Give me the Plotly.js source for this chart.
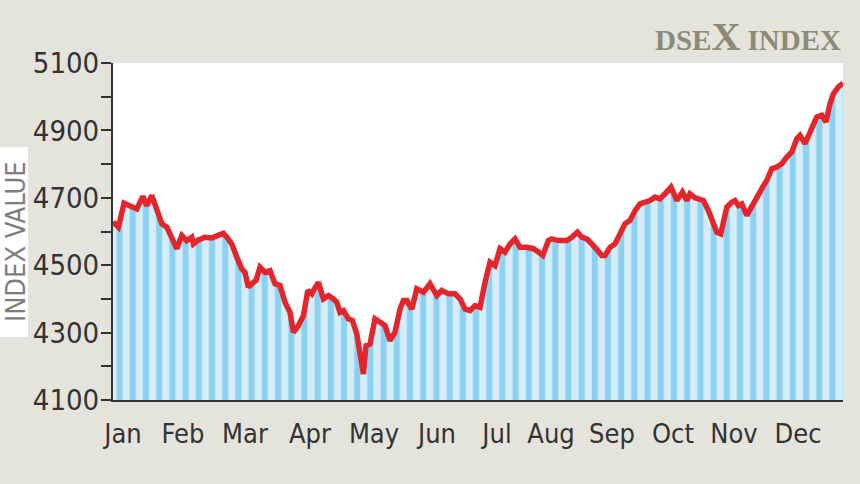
<!DOCTYPE html>
<html>
<head>
<meta charset="utf-8">
<script src="https://cdn.plot.ly/plotly-3.0.1.min.js"></script>
<style>
  html, body { margin: 0; padding: 0; background: #e5e4dc; }
  #chart { width: 860px; height: 484px; }
</style>
</head>
<body>
<div id="chart"></div>
<script>
// Day of year (0 = 1 Jan) for each reading of the DSEX index
const days = [0, 2.7, 5.5, 8.5, 11.9, 14.9, 16.9, 19.4, 21.9, 24.4, 26.9, 29.4, 31.9, 34.4, 36.9, 39.4, 40.2, 42.7, 46, 49.4,
  51.9, 55.2, 56.9, 59.4, 61.9, 64.4, 66, 67.7, 70.2, 71.5, 73.5, 76, 78.5, 81, 83.5, 86, 88.5, 90.2, 92.7, 95.2,
  97.4, 99.4, 100.7, 102.7, 105.2, 107.7, 110.2, 111.9, 113.5, 115.2, 117.7, 119.7, 121.9, 123.5, 125.2, 126.5, 128.5, 131, 133.5, 136,
  138.5, 141, 143.5, 145.2, 146.9, 149.4, 151.9, 155.2, 158.5, 161.9, 164.4, 167.7, 171, 173.5, 176, 178.5, 181, 183.5, 186, 188.5,
  191, 193.5, 196, 198.5, 201, 203.5, 206.9, 210.2, 212.7, 214.9, 217.7, 219.4, 222.7, 226.9, 229.4, 232.2, 234.4, 236.9, 239.4, 241.9,
  244.4, 246, 248.5, 251, 253.5, 256, 258.5, 261, 263.5, 266, 268.5, 271, 273.5, 276, 279, 281.9, 284.7, 286.9, 288.5, 291,
  293.5, 295.2, 297.7, 300.2, 301.9, 303.9, 305.2, 306.9, 309.4, 311, 312.7, 314.4, 316.9, 319.4, 321.9, 324.4, 326.9, 329.4, 331.9, 334.4,
  336.9, 339.4, 341.9, 343.5, 346, 347.7, 350.2, 351.9, 354.4, 356.5, 358.5, 360.2, 362.7, 365];

const indexValues = [4628, 4613, 4684, 4677, 4667, 4704, 4677, 4707, 4662, 4623, 4613, 4583, 4549, 4588, 4573, 4583, 4563, 4575, 4583, 4581,
  4588, 4595, 4583, 4563, 4524, 4489, 4479, 4435, 4449, 4455, 4494, 4479, 4484, 4445, 4440, 4390, 4360, 4301, 4321, 4350,
  4425, 4415, 4430, 4449, 4400, 4410, 4400, 4390, 4360, 4365, 4341, 4336, 4296, 4237, 4177, 4261, 4266, 4341, 4331, 4321,
  4276, 4301, 4370, 4395, 4395, 4370, 4430, 4420, 4445, 4410, 4425, 4415, 4415, 4400, 4370, 4365, 4380, 4375, 4449, 4509,
  4499, 4549, 4539, 4563, 4578, 4553, 4553, 4549, 4539, 4529, 4573, 4578, 4573, 4573, 4583, 4598, 4583, 4578, 4563, 4544,
  4529, 4529, 4553, 4563, 4593, 4623, 4633, 4662, 4682, 4687, 4692, 4702, 4697, 4712, 4732, 4692, 4717, 4692, 4712, 4700,
  4697, 4692, 4662, 4628, 4598, 4593, 4633, 4672, 4687, 4692, 4677, 4682, 4648, 4672, 4697, 4727, 4752, 4786, 4791, 4801,
  4821, 4836, 4875, 4885, 4861, 4885, 4925, 4940, 4945, 4925, 4979, 5009, 5029, 5040];

const monthTickDays = [5, 35, 66, 98.5, 130.5, 162, 192, 219, 249.5, 280, 310.5, 342.5];
const monthLabels = ['Jan', 'Feb', 'Mar', 'Apr', 'May', 'Jun', 'Jul', 'Aug', 'Sep', 'Oct', 'Nov', 'Dec'];

const yTickValues = [4100, 4300, 4500, 4700, 4900, 5100];
const chartTitle = 'DSE<span style="font-size:40px">X</span> INDEX';
const yTitle = 'INDEX VALUE';

const W = 860, H = 484;
const M = {l: 113, r: 17, t: 63, b: 84};
const plotW = W - M.l - M.r, plotH = H - M.t - M.b;
const px2paperX = px => (px - M.l) / plotW;
const px2paperY = py => (H - M.b - py) / plotH;

const condensed = '"Liberation Sans Narrow", "DejaVu Sans Condensed", sans-serif';
const tickFont = {family: condensed, color: '#333333'};

const trace = {
  x: days,
  y: indexValues,
  type: 'scatter',
  mode: 'lines',
  line: {color: '#e4262c', width: 5.5},
  fill: 'tozeroy',
  fillcolor: '#d4edf9',
  fillpattern: {shape: '|', fgcolor: '#8dd1f0', bgcolor: '#d4edf9', size: 13.2, solidity: 0.46},
  hoverinfo: 'skip'
};

const layout = {
  width: W, height: H,
  margin: M,
  paper_bgcolor: '#e5e4dc',
  plot_bgcolor: '#ffffff',
  showlegend: false,
  title: {
    text: chartTitle,
    x: 841 / W, xanchor: 'right', xref: 'container',
    y: 1 - 40 / H, yanchor: 'middle', yref: 'container',
    font: {family: '"Liberation Serif", "DejaVu Serif", serif', size: 29, color: '#8c8b78', weight: 'bold'}
  },
  xaxis: {
    range: [0, 365],
    tickvals: monthTickDays,
    ticktext: monthLabels,
    ticks: '',
    showgrid: false, zeroline: false,
    showline: true, linecolor: '#333333', linewidth: 2,
    tickfont: Object.assign({size: 27}, tickFont),
    ticklabelstandoff: 9,
    fixedrange: true
  },
  yaxis: {
    range: [4100, 5100],
    tickvals: yTickValues,
    ticks: 'outside', ticklen: 10, tickwidth: 2, tickcolor: '#333333',
    minor: {dtick: 100, tick0: 4100, ticks: 'outside', ticklen: 10, tickwidth: 2, tickcolor: '#333333', showgrid: false},
    showgrid: false, zeroline: false,
    showline: true, linecolor: '#333333', linewidth: 2,
    tickfont: Object.assign({size: 29}, tickFont),
    ticklabelstandoff: -4,
    fixedrange: true
  },
  shapes: [{
    type: 'rect', xref: 'paper', yref: 'paper', layer: 'below',
    x0: px2paperX(-5), x1: px2paperX(28), y0: px2paperY(337), y1: px2paperY(147),
    fillcolor: '#ffffff', line: {width: 0}
  }],
  annotations: [{
    text: yTitle, textangle: -90, showarrow: false,
    xref: 'paper', yref: 'paper', borderpad: 0,
    x: px2paperX(15), y: px2paperY(242), xanchor: 'center', yanchor: 'middle',
    font: {family: condensed, size: 27, color: '#7d7d7d'}
  }]
};

Plotly.newPlot('chart', [trace], layout, {staticPlot: true, displayModeBar: false});
</script>
</body>
</html>
